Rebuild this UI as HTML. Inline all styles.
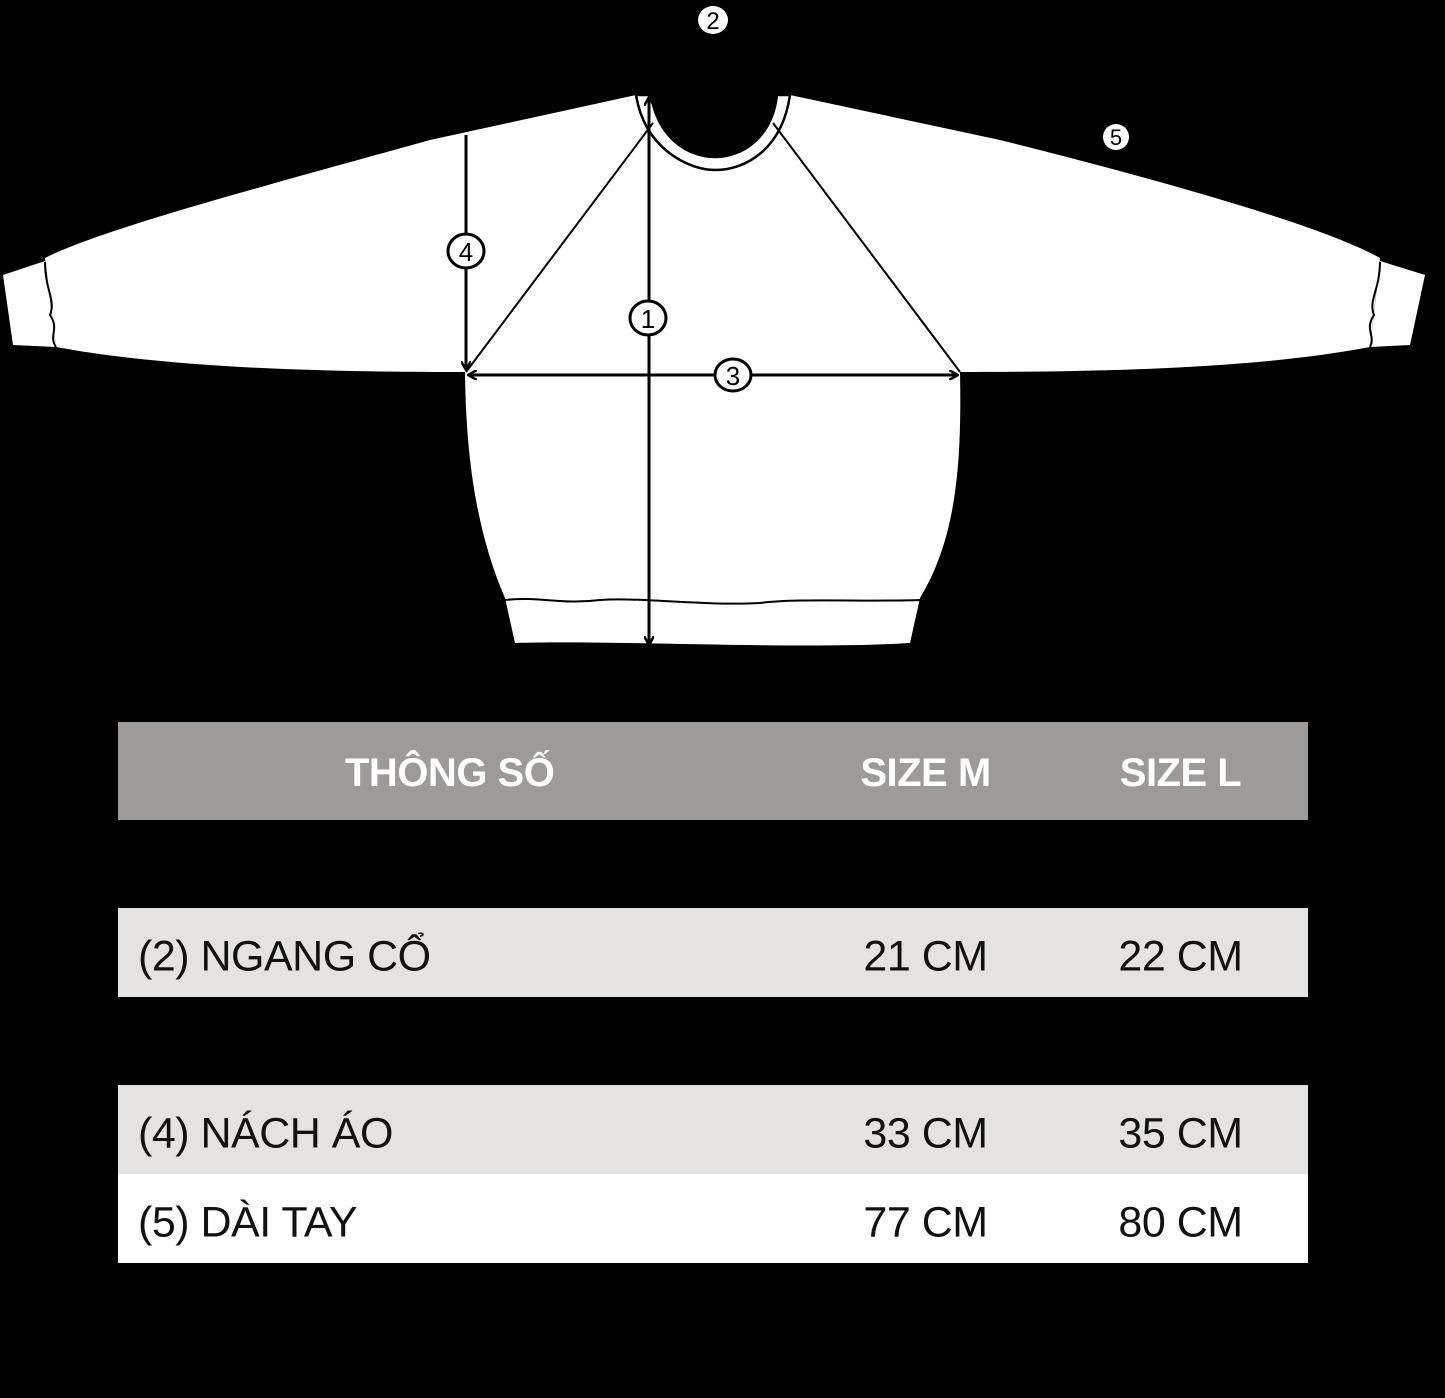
<!DOCTYPE html>
<html><head><meta charset="utf-8"><style>
html,body{margin:0;padding:0;background:#000;}
body{width:1445px;height:1398px;position:relative;overflow:hidden;font-family:"Liberation Sans",sans-serif;}
svg{position:absolute;left:0;top:0;}
.row{position:absolute;left:118px;width:1190px;height:89px;}
.row span{position:absolute;font-size:43px;color:#111;top:50%;transform:translateY(-42%);letter-spacing:-0.5px;}
.c0{left:20px}.c1{left:700px;width:215px;text-align:center}.c2{left:950px;width:225px;text-align:center}
.hdr span{color:#fff;font-weight:bold;font-size:40px;transform:translateY(-44%);}
</style></head><body>
<svg width="1445" height="700">
<defs><marker id="ah" markerWidth="10" markerHeight="10" refX="9" refY="5" orient="auto-start-reverse" markerUnits="userSpaceOnUse"><path d="M0,0 L9,5 L0,10" fill="none" stroke="#000" stroke-width="2.5"/></marker></defs>
<g fill="#fff">
<path d="M636,95 C650,150 690,170 715,170 C745,170 785,150 790,95 L1000,140 C1200,190 1330,230 1380,258 L1370,347 C1250,370 1080,372 960,372 C962,470 955,540 920,598 L910,643 C800,650 620,640 515,643 L505,598 C480,540 466,470 465,372 C350,372 180,370 56,347 L45,258 C100,230 250,190 430,140 Z"/>
<path d="M3,275 L45,261 L56,347 L13,345 Z"/>
<path d="M1380,261 L1425,275 L1410,345 L1370,347 Z"/>
</g>
<path d="M636,95 C645,150 690,170 715,170 C745,170 782,150 790,95 L777,95 C772,138 742,157 715,157 C688,157 658,138 651,95 Z" fill="#fff" stroke="#000" stroke-width="2.5"/>
<path d="M653,95 C660,138 690,155 715,155 C740,155 770,138 775,95 Z" fill="#000"/>
<g stroke="#000" stroke-width="2" fill="none">
<path d="M45,262 C45,290 56,300 50,315 C60,330 48,335 56,347"/>
<path d="M1380,262 C1380,290 1368,300 1374,315 C1364,330 1376,335 1370,347"/>
<path d="M505,600 C540,596 560,605 600,600 C640,597 700,606 760,603 C800,598 860,602 921,600"/>
<line x1="653" y1="123" x2="466" y2="372"/>
<line x1="773" y1="123" x2="960" y2="372"/>
</g>
<g stroke="#000" stroke-width="3" fill="none">
<line x1="649" y1="97" x2="649" y2="645" marker-start="url(#ah)" marker-end="url(#ah)"/>
<line x1="466" y1="135" x2="466" y2="370" marker-end="url(#ah)"/>
<line x1="468" y1="375" x2="958" y2="375" marker-start="url(#ah)" marker-end="url(#ah)"/>
</g>
<g font-size="26" text-anchor="middle" font-family="Liberation Sans,sans-serif">
<g><ellipse cx="648" cy="318" rx="18" ry="17" fill="#fff" stroke="#000" stroke-width="3"/><text x="648" y="328">1</text></g>
<g><ellipse cx="466" cy="251" rx="18" ry="17" fill="#fff" stroke="#000" stroke-width="3"/><text x="466" y="261">4</text></g>
<g><ellipse cx="733" cy="375" rx="18" ry="16" fill="#fff" stroke="#000" stroke-width="3"/><text x="733" y="385">3</text></g>
<g><ellipse cx="713" cy="20" rx="15" ry="14" fill="#fff"/><text x="713" y="29" font-size="24">2</text></g>
<g><circle cx="1116" cy="137" r="13" fill="#fff"/><text x="1116" y="145" font-size="22">5</text></g>
</g>
</svg>
<div class="row hdr" style="top:722px;height:98px;background:#9c9b99"><span style="left:227px">THÔNG SỐ</span><span class="c1">SIZE M</span><span class="c2">SIZE L</span></div>
<div class="row" style="top:820px;height:88px;background:#000"><span class="c0" style="color:#000">(1) DÀI ÁO</span></div>
<div class="row" style="top:908px;background:#e4e3e2"><span class="c0">(2) NGANG CỔ</span><span class="c1">21 CM</span><span class="c2">22 CM</span></div>
<div class="row" style="top:997px;height:88px;background:#000"><span class="c0" style="color:#000">(3) NGANG NGỰC</span></div>
<div class="row" style="top:1085px;background:#e4e3e2"><span class="c0">(4) NÁCH ÁO</span><span class="c1">33 CM</span><span class="c2">35 CM</span></div>
<div class="row" style="top:1174px;background:#fff"><span class="c0">(5) DÀI TAY</span><span class="c1">77 CM</span><span class="c2">80 CM</span></div>
</body></html>
